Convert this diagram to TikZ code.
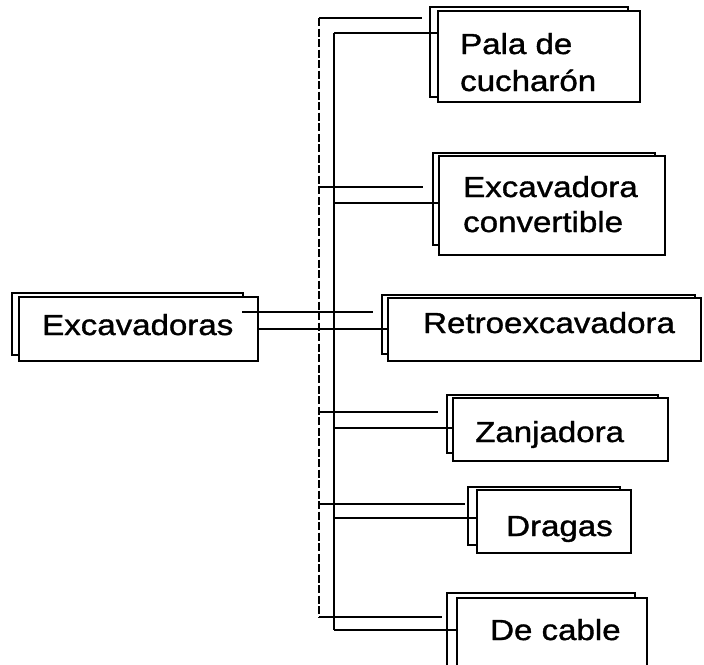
\documentclass[tikz,border=0pt]{standalone}
\usepackage{fontspec}
\setmainfont{Liberation Sans}[FakeStretch=1.14,FakeBold=1.2]
\begin{document}
\begin{tikzpicture}[x=1pt,y=-1pt,
  backbox/.style={draw, line width=2.6pt, fill=white, inner sep=0pt, outer sep=0pt, anchor=north west},
  frontbox/.style={draw, line width=1.5pt, fill=white, inner sep=0pt, outer sep=0pt, anchor=north west},
  lbl/.style={anchor=base west, inner sep=0pt, font=\fontsize{29}{36}\selectfont},
  thinlink/.style={line width=1.3pt},
  thicklink/.style={line width=1.8pt},
  dashbus/.style={line width=1.4pt, dash pattern=on 8pt off 2.5pt}]
\useasboundingbox (0,0) rectangle (704,664);
% root
\node[backbox, minimum width=231pt, minimum height=62pt] (rootB) at (12,293) {};
\node[frontbox, minimum width=239pt, minimum height=64pt] (root) at (19,297) {};
\node[lbl] (rootT) at (42,335) {Excavadoras};
% Pala de cucharon
\node[backbox, minimum width=198pt, minimum height=90pt] (palaB) at (430,7) {};
\node[frontbox, minimum width=202pt, minimum height=91pt] (pala) at (438,11) {};
\node[lbl] (palaT1) at (460,54) {Pala de};
\node[lbl] (palaT2) at (460,91) {cucharón};
% Excavadora convertible
\node[backbox, minimum width=222pt, minimum height=92pt] (convB) at (433,153) {};
\node[frontbox, minimum width=226pt, minimum height=99pt] (conv) at (439,156) {};
\node[lbl] (convT1) at (463,197) {Excavadora};
\node[lbl] (convT2) at (463,232) {convertible};
% Retroexcavadora
\node[backbox, minimum width=313pt, minimum height=59pt] (retroB) at (382,295) {};
\node[frontbox, minimum width=313pt, minimum height=63pt] (retro) at (388,298) {};
\node[lbl] (retroT) at (423,333) {Retroexcavadora};
% Zanjadora
\node[backbox, minimum width=211pt, minimum height=58pt] (zanjB) at (447,395) {};
\node[frontbox, minimum width=215pt, minimum height=63pt] (zanj) at (453,398) {};
\node[lbl] (zanjT) at (475,442) {Zanjadora};
% Dragas
\node[backbox, minimum width=152pt, minimum height=58pt] (dragB) at (468,487) {};
\node[frontbox, minimum width=154pt, minimum height=63pt] (drag) at (477,490) {};
\node[lbl] (dragT) at (506,536) {Dragas};
% De cable
\node[backbox, minimum width=188pt, minimum height=77pt] (cableB) at (447,593) {};
\node[frontbox, minimum width=190pt, minimum height=82pt] (cable) at (457,598) {};
\node[lbl] (cableT) at (490,640) {De cable};
% buses
\coordinate (dtop) at (319,18);
\coordinate (dbot) at (319,617);
\coordinate (stop) at (334,33);
\coordinate (sbot) at (334,630);
\draw[dashbus] (dtop) -- (dbot);
\draw[thicklink] (stop) -- (sbot);
% root connectors
\draw[thinlink] ([xshift=-16pt]root.east |- 0,312) -- ([xshift=-9pt]retroB.west |- 0,312);
\draw[thicklink] (root.east |- 0,329) -- (retro.west |- 0,329);
% box connectors
\draw[thinlink] (dtop |- 0,18) -- ([xshift=-8pt]palaB.west |- 0,18);
\draw[thicklink] (stop |- 0,33) -- (pala.west |- 0,33);
\draw[thinlink] (dtop |- 0,187) -- ([xshift=-10pt]convB.west |- 0,187);
\draw[thicklink] (stop |- 0,203) -- (conv.west |- 0,203);
\draw[thinlink] (dtop |- 0,412) -- ([xshift=-9pt]zanjB.west |- 0,412);
\draw[thicklink] (stop |- 0,428) -- (zanj.west |- 0,428);
\draw[thinlink] (dtop |- 0,504) -- ([xshift=-3pt]dragB.west |- 0,504);
\draw[thicklink] (stop |- 0,518) -- (drag.west |- 0,518);
\draw[thinlink] (dbot) -- ([xshift=-5pt]cableB.west |- dbot);
\draw[thicklink] (sbot) -- (cable.west |- sbot);
\end{tikzpicture}
\end{document}
